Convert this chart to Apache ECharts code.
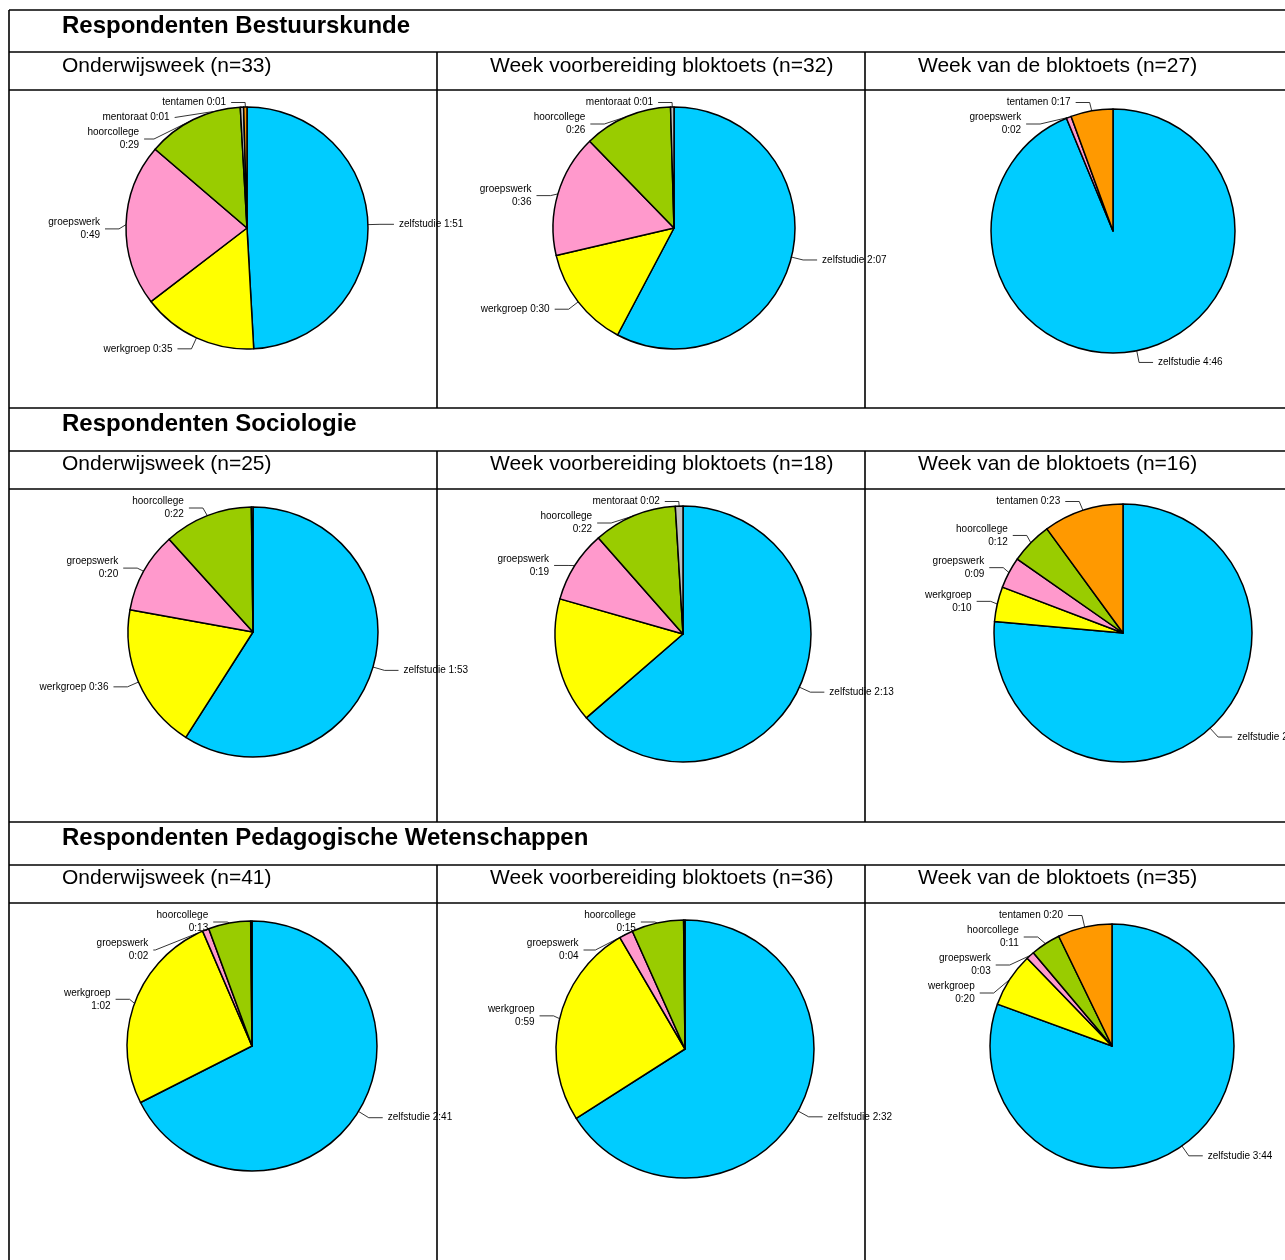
<!DOCTYPE html>
<html><head><meta charset="utf-8">
<script src="https://cdn.jsdelivr.net/npm/echarts@6/dist/echarts.min.js"></script>
<style>html,body{margin:0;padding:0;background:#fff}#c{width:1285px;height:1260px}</style>
</head><body><div id="c"></div>
<script>
// ---- data ----
const categories = ['zelfstudie', 'werkgroep', 'groepswerk', 'hoorcollege', 'mentoraat', 'tentamen'];
const groups = ['Respondenten Bestuurskunde', 'Respondenten Sociologie', 'Respondenten Pedagogische Wetenschappen'];
const periods = ['Onderwijsweek', 'Week voorbereiding bloktoets', 'Week van de bloktoets'];
const nBestuurskunde = [33, 32, 27];
const nSociologie = [25, 18, 16];
const nPedagogiek = [41, 36, 35];
// minutes per week, in the order of categories
const bestOnderwijs = [111, 35, 49, 29, 1, 1];
const bestVoorb = [127, 30, 36, 26, 1, 0];
const bestBlok = [286, 0, 2, 0, 0, 17];
const socOnderwijs = [113, 36, 20, 22, 0.4, 0];
const socVoorb = [133, 33, 19, 22, 2, 0];
const socBlok = [175, 10, 9, 12, 0, 23];
const pedOnderwijs = [161, 62, 2, 13, 0.4, 0];
const pedVoorb = [152, 59, 4, 15, 0.4, 0];
const pedBlok = [224, 20, 3, 11, 0, 20];
// labels written on two lines
const wrapBestOnderwijs = ['hoorcollege', 'groepswerk'];
const wrapBestVoorb = ['hoorcollege', 'groepswerk'];
const wrapBestBlok = ['groepswerk'];
const wrapSocOnderwijs = ['hoorcollege', 'groepswerk'];
const wrapSocVoorb = ['hoorcollege', 'groepswerk'];
const wrapSocBlok = ['hoorcollege', 'groepswerk', 'werkgroep'];
const wrapPedOnderwijs = ['hoorcollege', 'groepswerk', 'werkgroep'];
const wrapPedVoorb = ['hoorcollege', 'groepswerk', 'werkgroep'];
const wrapPedBlok = ['hoorcollege', 'groepswerk', 'werkgroep'];

// ---- styling / layout ----
const colors = {zelfstudie: '#00CCFF', werkgroep: '#FFFF00', groepswerk: '#FF99CC', hoorcollege: '#99CC00', mentoraat: '#C0C0C0', tentamen: '#FF9900'};
const FONT = '"Liberation Sans", Arial, sans-serif';
const colX = [9, 437, 865, 1293];
const rowLines = [
  {title: 10, sub: 52, chart: 90, end: 408},
  {title: 408, sub: 451, chart: 489, end: 822},
  {title: 822, sub: 865, chart: 903, end: 1262}
];
const titleY = [26, 424, 838];
const subY = [66, 464, 878];
const pieGeom = [
  [[247, 228, 121], [674, 228, 121], [1113, 231, 122]],
  [[253, 632, 125], [683, 634, 128], [1123, 633, 129]],
  [[252, 1046, 125], [685, 1049, 129], [1112, 1046, 122]]
];
const pieData = [[bestOnderwijs, bestVoorb, bestBlok], [socOnderwijs, socVoorb, socBlok], [pedOnderwijs, pedVoorb, pedBlok]];
const wraps = [[wrapBestOnderwijs, wrapBestVoorb, wrapBestBlok], [wrapSocOnderwijs, wrapSocVoorb, wrapSocBlok], [wrapPedOnderwijs, wrapPedVoorb, wrapPedBlok]];
const ns = [nBestuurskunde, nSociologie, nPedagogiek];

function hm(v) {
  const m = Math.round(v);
  return Math.floor(m / 60) + ':' + String(m % 60).padStart(2, '0');
}

const graphics = [];
const line = (x1, y1, x2, y2) => graphics.push({type: 'line', shape: {x1, y1, x2, y2}, style: {stroke: '#000', lineWidth: 1.6}, silent: true});
const text = (x, y, t, font) => graphics.push({type: 'text', style: {x, y, text: t, font, fill: '#000', textVerticalAlign: 'middle'}, silent: true});

rowLines.forEach((r, i) => {
  line(colX[0], r.title, 1285, r.title);
  line(colX[0], r.sub, 1285, r.sub);
  line(colX[0], r.chart, 1285, r.chart);
  for (let c = 1; c < 3; c++) line(colX[c], r.sub, colX[c], r.end);
  text(62, titleY[i], groups[i], 'bold 24px ' + FONT);
  for (let c = 0; c < 3; c++) text(colX[c] + 53, subY[i], periods[c] + ' (n=' + ns[i][c] + ')', '21px ' + FONT);
});
line(colX[0], 10, colX[0], 1262);

const series = [];
for (let r = 0; r < 3; r++) for (let c = 0; c < 3; c++) {
  const [cx, cy, rad] = pieGeom[r][c];
  const vals = pieData[r][c];
  const wrap = wraps[r][c];
  const boxLeft = colX[c], boxTop = rowLines[r].chart + 5;
  const boxH = Math.min(rowLines[r].end, 1260) - 5 - boxTop;
  const data = [];
  vals.forEach((v, i) => {
    if (v > 0) data.push({
      name: categories[i], value: v,
      itemStyle: {color: colors[categories[i]]},
      label: {show: Math.round(v) > 0},
      labelLine: {show: Math.round(v) > 0}
    });
  });
  series.push({
    type: 'pie',
    left: boxLeft, top: boxTop, width: 428, height: boxH,
    center: [cx - boxLeft, cy - boxTop], radius: rad, startAngle: 90, clockwise: true,
    animation: false, silent: true,
    itemStyle: {borderColor: '#000', borderWidth: 1.5},
    label: {
      color: '#000', fontSize: 10, fontFamily: FONT, lineHeight: 13, overflow: 'none',
      formatter: p => p.name + (wrap.includes(p.name) ? '\n' : ' ') + hm(p.value)
    },
    labelLine: {length: 12, length2: 14, lineStyle: {color: '#000', width: 0.8}},
    data
  });
}

const chart = echarts.init(document.getElementById('c'), null, {renderer: 'canvas'});
chart.setOption({backgroundColor: '#fff', animation: false, series, graphic: graphics});
</script></body></html>
